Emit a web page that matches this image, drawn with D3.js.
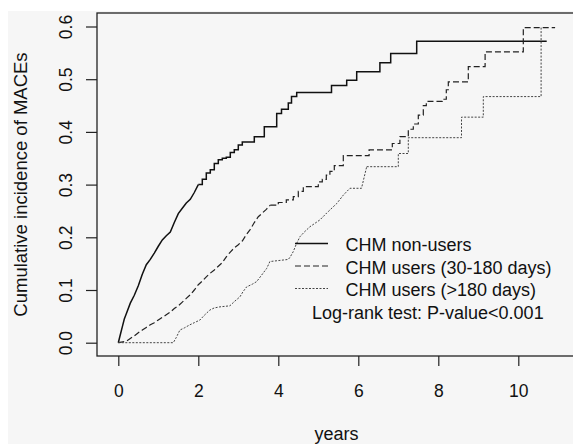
<!DOCTYPE html>
<html>
<head>
<meta charset="utf-8">
<script src="https://cdn.jsdelivr.net/npm/d3@7"></script>
<style>
  body { margin: 0; background: #fff; }
  svg text { font-family: "Liberation Sans", Arial, sans-serif; fill: #111; }
</style>
</head>
<body>
<svg id="chart" width="573" height="444"></svg>
<script>
// years since index, cumulative incidence
const nonUsers = [
  [0, 0], [0.05, 0.015], [0.1, 0.03], [0.15, 0.045], [0.2, 0.055], [0.3, 0.075],
  [0.4, 0.09], [0.5, 0.108], [0.6, 0.13], [0.7, 0.148], [0.8, 0.158], [0.9, 0.17],
  [1.0, 0.183], [1.1, 0.195], [1.2, 0.203], [1.3, 0.21], [1.4, 0.228], [1.5, 0.245],
  [1.6, 0.255], [1.7, 0.265], [1.8, 0.272], [1.9, 0.285], [2.0, 0.3], [2.1, 0.31],
  [2.2, 0.322], [2.3, 0.328], [2.4, 0.34], [2.5, 0.347], [2.6, 0.35], [2.7, 0.352],
  [2.8, 0.361], [2.9, 0.366], [3.0, 0.375], [3.1, 0.381], [3.4, 0.391], [3.65, 0.41],
  [3.96, 0.435], [4.08, 0.443], [4.25, 0.455], [4.33, 0.467], [4.46, 0.475],
  [5.33, 0.488], [5.71, 0.498], [5.96, 0.514], [6.54, 0.531], [6.81, 0.549],
  [7.46, 0.572], [10.71, 0.572]
];
const users30to180 = [
  [0, 0], [0.2, 0.003], [0.3, 0.008], [0.4, 0.013], [0.5, 0.019], [0.6, 0.024],
  [0.7, 0.029], [0.8, 0.034], [0.9, 0.038], [1.0, 0.043], [1.1, 0.048], [1.2, 0.053],
  [1.3, 0.058], [1.4, 0.065], [1.5, 0.07], [1.6, 0.077], [1.7, 0.084], [1.8, 0.091],
  [1.9, 0.1], [2.0, 0.11], [2.1, 0.117], [2.2, 0.125], [2.3, 0.132], [2.4, 0.138],
  [2.5, 0.145], [2.6, 0.152], [2.7, 0.163], [2.8, 0.172], [2.9, 0.18], [3.0, 0.186],
  [3.1, 0.193], [3.2, 0.205], [3.3, 0.215], [3.4, 0.228], [3.5, 0.239], [3.6, 0.246],
  [3.7, 0.253], [3.8, 0.261], [4.0, 0.266], [4.2, 0.271], [4.375, 0.277], [4.5, 0.287],
  [4.625, 0.296], [5.0, 0.305], [5.1, 0.31], [5.2, 0.318], [5.29, 0.325], [5.4, 0.336],
  [5.625, 0.355], [6.27, 0.366], [6.85, 0.378], [7.04, 0.391], [7.25, 0.405],
  [7.375, 0.415], [7.5, 0.432], [7.625, 0.45], [7.7, 0.458], [8.1, 0.462], [8.2, 0.48],
  [8.25, 0.495], [8.75, 0.524], [9.17, 0.552], [10.125, 0.598], [10.92, 0.598]
];
const usersOver180 = [
  [0, 0], [1.375, 0], [1.45, 0.01], [1.54, 0.024], [1.65, 0.028], [1.79, 0.034],
  [1.9, 0.038], [2.04, 0.043], [2.15, 0.052], [2.29, 0.062], [2.4, 0.066], [2.54, 0.068],
  [2.79, 0.07], [2.9, 0.078], [3.04, 0.087], [3.12, 0.097], [3.21, 0.106], [3.35, 0.111],
  [3.46, 0.116], [3.58, 0.128], [3.71, 0.141], [3.79, 0.154], [4.25, 0.158], [4.3, 0.163],
  [4.375, 0.173], [4.45, 0.187], [4.54, 0.201], [4.65, 0.21], [4.79, 0.22], [5.04, 0.233],
  [5.21, 0.246], [5.375, 0.258], [5.46, 0.264], [5.625, 0.28], [5.79, 0.293], [6.08, 0.293],
  [6.21, 0.334], [7.0, 0.359], [7.25, 0.389], [8.58, 0.428], [9.125, 0.467], [10.57, 0.598]
];
// where the dense (near-continuous) part ends and the visible stairs begin
const stairsFrom = [2.0, 3.8, 6.21];

const xTicks = [0, 2, 4, 6, 8, 10];
const yTicks = [0, 0.1, 0.2, 0.3, 0.4, 0.5, 0.6];
const legendLabels = ["CHM non-users", "CHM users (30-180 days)", "CHM users (>180 days)"];
const testLabel = "Log-rank test: P-value<0.001";

const svg = d3.select("#chart");
const W = 573, H = 444;
const box = {left: 97, top: 13, right: 576, bottom: 356};

// paper-ish background
svg.append("rect").attr("x", 0).attr("y", 0).attr("width", W).attr("height", H).attr("fill", "#fff");
svg.append("rect").attr("x", 8).attr("y", 11).attr("width", W).attr("height", H).attr("fill", "#f6f6f6");

const x = d3.scaleLinear().domain([0, 10]).range([118.3, 518.3]);
const y = d3.scaleLinear().domain([0, 0.6]).range([342.7, 26.5]);

const dense = d3.line().x(d => x(d[0])).y(d => y(d[1])).curve(d3.curveLinear);
const stairs = d3.line().x(d => x(d[0])).y(d => y(d[1])).curve(d3.curveStepAfter);

const series = [
  {data: nonUsers, cut: stairsFrom[0], width: 1.5, color: "#111", dash: null},
  {data: users30to180, cut: stairsFrom[1], width: 1.2, color: "#222", dash: "6,3"},
  {data: usersOver180, cut: stairsFrom[2], width: 1, color: "#444", dash: "2,1.5"}
];

const curves = svg.append("g");
series.forEach(s => {
  const head = s.data.filter(d => d[0] <= s.cut);
  const tail = s.data.filter(d => d[0] >= s.cut);
  [dense(head), stairs(tail)].forEach(p => {
    curves.append("path")
      .attr("d", p)
      .attr("fill", "none")
      .attr("stroke", s.color)
      .attr("stroke-width", s.width)
      .attr("stroke-dasharray", s.dash);
  });
});

// box (left, top, bottom visible)
svg.append("rect")
  .attr("x", box.left).attr("y", box.top)
  .attr("width", box.right - box.left).attr("height", box.bottom - box.top)
  .attr("fill", "none").attr("stroke", "#222").attr("stroke-width", 1.3);

// y axis
const yAxis = svg.append("g")
  .attr("transform", `translate(${box.left},0)`)
  .call(d3.axisLeft(y).tickValues(yTicks).tickSize(11).tickFormat(d3.format(".1f")));
yAxis.select(".domain").remove();
yAxis.selectAll("line").attr("stroke", "#222").attr("stroke-width", 1.2);
yAxis.selectAll("text")
  .attr("x", 0).attr("dy", 0)
  .attr("transform", "translate(-25.5,0) rotate(-90)")
  .attr("text-anchor", "middle")
  .style("font-size", "17.5px");

// x axis
const xAxis = svg.append("g")
  .attr("transform", `translate(0,${box.bottom})`)
  .call(d3.axisBottom(x).tickValues(xTicks).tickSize(10));
xAxis.select(".domain").remove();
xAxis.selectAll("line").attr("stroke", "#222").attr("stroke-width", 1.2);
xAxis.selectAll("text")
  .attr("y", 40.5).attr("dy", 0)
  .style("font-size", "17.5px");

svg.selectAll(".tick text").attr("fill", "#111");

// axis titles
svg.append("text")
  .attr("transform", `translate(27,${(box.top + box.bottom) / 2}) rotate(-90)`)
  .attr("text-anchor", "middle")
  .style("font-size", "18.5px")
  .text("Cumulative incidence of MACEs");

svg.append("text")
  .attr("x", (box.left + box.right) / 2)
  .attr("y", 439.5)
  .attr("text-anchor", "middle")
  .style("font-size", "18px")
  .text("years");

// legend
const legend = svg.append("g");
const rowY = [243.5, 266, 288.5];
legend.selectAll("line")
  .data(series)
  .join("line")
  .attr("x1", 295).attr("x2", 328)
  .attr("y1", (d, i) => rowY[i]).attr("y2", (d, i) => rowY[i])
  .attr("stroke", d => d.color)
  .attr("stroke-width", d => d.width)
  .attr("stroke-dasharray", d => d.dash);
legend.selectAll("text.lab")
  .data(legendLabels)
  .join("text")
  .attr("class", "lab")
  .attr("x", 345.5)
  .attr("y", (d, i) => rowY[i] + 7.5)
  .style("font-size", "18px")
  .text(d => d);
legend.append("text")
  .attr("x", 312)
  .attr("y", 319.3)
  .style("font-size", "18px")
  .text(testLabel);
</script>
</body>
</html>
